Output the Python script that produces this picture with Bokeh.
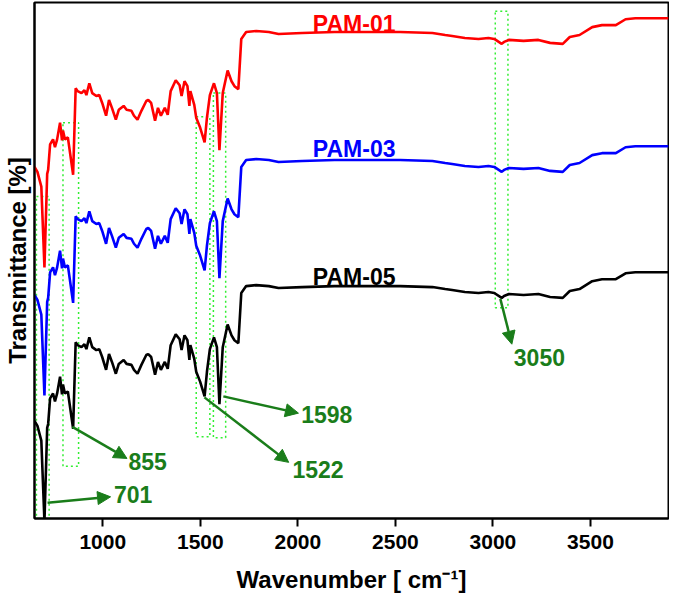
from bokeh.plotting import figure
from bokeh.models import Range1d, FixedTicker, Arrow, NormalHead
from bokeh.core.properties import value
from bokeh.embed import file_html
from bokeh.resources import INLINE

# ---- data (arbitrary stacked transmittance units) ----
wavenumber = [650, 665, 685, 701, 715, 720, 730, 745, 755, 766, 781, 791, 796, 806, 821, 848,
              861, 871, 891, 906, 916, 931, 946, 967, 982, 997, 1017, 1032, 1047, 1067, 1082,
              1107, 1122, 1147, 1160, 1178, 1198, 1223, 1233, 1248, 1268, 1283, 1298, 1318,
              1333, 1348, 1374, 1394, 1404, 1419, 1434, 1444, 1449, 1469, 1479, 1499, 1522,
              1534, 1549, 1570, 1585, 1598, 1615, 1640, 1660, 1675, 1695, 1710, 1735, 1786,
              1851, 1901, 2022, 2188, 2352, 2524, 2690, 2755, 2791, 2856, 2926, 2977, 3007,
              3045, 3057, 3082, 3157, 3233, 3293, 3358, 3394, 3444, 3509, 3559, 3630, 3680,
              3730, 3900]

pam01 = [357, 352, 337, 255, 350, 354, 380, 385, 377, 385, 402, 384, 394, 385, 387, 349,
         437, 434, 432, 435, 430, 442, 432, 429, 430, 422, 409, 425, 417, 405, 415,
         419, 415, 414, 409, 405, 414, 424, 425, 422, 404, 417, 409, 417,
         410, 434, 445, 440, 429, 444, 439, 419, 434, 420, 407, 397, 382,
         407, 430, 442, 432, 374, 432, 455, 444, 439, 436, 487, 494, 495,
         494, 492, 493, 494, 494, 494, 493, 491, 490, 488, 487, 488, 487,
         482, 484, 486, 485, 486, 483, 482, 489, 491, 499, 501, 501, 507,
         508, 508]

pam03 = [227, 222, 207, 125, 220, 224, 250, 255, 247, 255, 272, 254, 264, 255, 257, 219,
         307, 304, 302, 305, 300, 312, 302, 299, 300, 292, 279, 295, 287, 275, 285,
         289, 285, 284, 279, 275, 284, 294, 295, 292, 274, 287, 279, 287,
         280, 304, 315, 310, 299, 314, 309, 289, 304, 290, 277, 267, 252,
         277, 300, 312, 302, 244, 302, 325, 314, 309, 306, 357, 364, 365,
         364, 362, 363, 364, 364, 364, 363, 361, 360, 358, 357, 358, 357,
         352, 354, 356, 355, 356, 353, 352, 359, 361, 369, 371, 371, 377,
         378, 378]

pam05 = [99, 94, 79, -3, 92, 96, 122, 127, 119, 127, 144, 126, 136, 127, 129, 91,
         179, 176, 174, 177, 172, 184, 174, 171, 172, 164, 151, 167, 159, 147, 157,
         161, 157, 156, 151, 147, 156, 166, 167, 164, 146, 159, 151, 159,
         152, 176, 187, 182, 171, 186, 181, 161, 176, 162, 149, 139, 124,
         149, 172, 184, 174, 116, 174, 197, 186, 181, 178, 229, 236, 237,
         236, 234, 235, 236, 236, 236, 235, 233, 232, 230, 229, 230, 229,
         224, 226, 228, 227, 228, 225, 224, 231, 233, 241, 243, 243, 249,
         250, 250]

series_names = ["PAM-01", "PAM-03", "PAM-05"]
x_ticks = [1000, 1500, 2000, 2500, 3000, 3500]
peak_labels = ["701", "855", "1522", "1598", "3050"]

# ---- styling / annotation positions ----
FONT = "Liberation Sans"
GREEN = "#1a7d1a"
LIME = "#33ee33"
series_colors = ["#ff0000", "#0000ff", "#000000"]

p = figure(width=669, height=600, output_backend="svg", toolbar_location=None,
           x_range=Range1d(650, 3900), y_range=Range1d(0, 524),
           min_border_left=30, min_border_right=1, min_border_top=2, min_border_bottom=82)
p.background_fill_color = "white"
p.border_fill_color = "white"
p.outline_line_color = "black"
p.outline_line_width = 2
p.xgrid.visible = False
p.ygrid.visible = False

# dotted highlight boxes
box_left = [660, 796, 1479, 1567, 3012]
box_right = [725, 876, 1549, 1630, 3077]
box_bottom = [0, 53, 83, 82, 214]
box_top = [327, 402, 408, 432, 515]
p.quad(left=box_left, right=box_right, bottom=box_bottom, top=box_top,
       fill_alpha=0, line_color=LIME, line_width=1.5, line_dash="2 3")

for ys, c in zip([pam01, pam03, pam05], series_colors):
    p.line(wavenumber, ys, line_color=c, line_width=2.6)

# series labels
p.text(x=[2077, 2077, 2077], y=[502, 375, 245], text=series_names,
       text_color=series_colors, text_font=value(FONT), text_font_style="bold",
       text_font_size="23px", text_align="left", text_baseline="alphabetic")

# arrows
arrow_start = [(717, 16), (844, 93), (1521, 123), (1618, 124), (3038, 223)]
arrow_end = [(1040, 22), (1124, 61), (1953, 57), (2003, 107), (3097, 177)]
for (xs, ys), (xe, ye) in zip(arrow_start, arrow_end):
    p.add_layout(Arrow(end=NormalHead(size=13, fill_color=GREEN, line_color=GREEN, line_width=1),
                       x_start=xs, y_start=ys, x_end=xe, y_end=ye,
                       line_color=GREEN, line_width=2.5))

p.text(x=[1057, 1132, 1972, 2017, 3107], y=[24, 58, 50, 106, 164], text=peak_labels,
       text_color=GREEN, text_font=value(FONT), text_font_style="bold",
       text_font_size="23px", text_align="left", text_baseline="middle")

# axes
xa = p.xaxis[0]
xa.ticker = FixedTicker(ticks=x_ticks)
xa.axis_label = "Wavenumber [ cm\u207b\u00b9]"
xa.axis_label_text_font = FONT
xa.axis_label_text_font_style = "bold"
xa.axis_label_text_font_size = "24px"
xa.axis_label_text_color = "black"
xa.axis_label_standoff = 14
xa.major_label_text_font = FONT
xa.major_label_text_font_style = "bold"
xa.major_label_text_font_size = "21px"
xa.major_label_text_color = "black"
xa.major_label_standoff = 8
xa.axis_line_width = 2
xa.axis_line_color = "black"
xa.major_tick_line_width = 2
xa.major_tick_line_color = "black"
xa.major_tick_out = 8
xa.major_tick_in = 0
xa.minor_tick_line_color = None

ya = p.yaxis[0]
ya.ticker = FixedTicker(ticks=[])
ya.axis_label = "Transmittance [%]"
ya.axis_label_text_font = FONT
ya.axis_label_text_font_style = "bold"
ya.axis_label_text_font_size = "24px"
ya.axis_label_text_color = "black"
ya.axis_label_standoff = 4
ya.axis_line_width = 2
ya.axis_line_color = "black"
ya.minor_tick_line_color = None
ya.major_tick_line_color = None
ya.major_label_text_font_size = "0px"

open("out.html", "w").write(file_html(p, INLINE))
